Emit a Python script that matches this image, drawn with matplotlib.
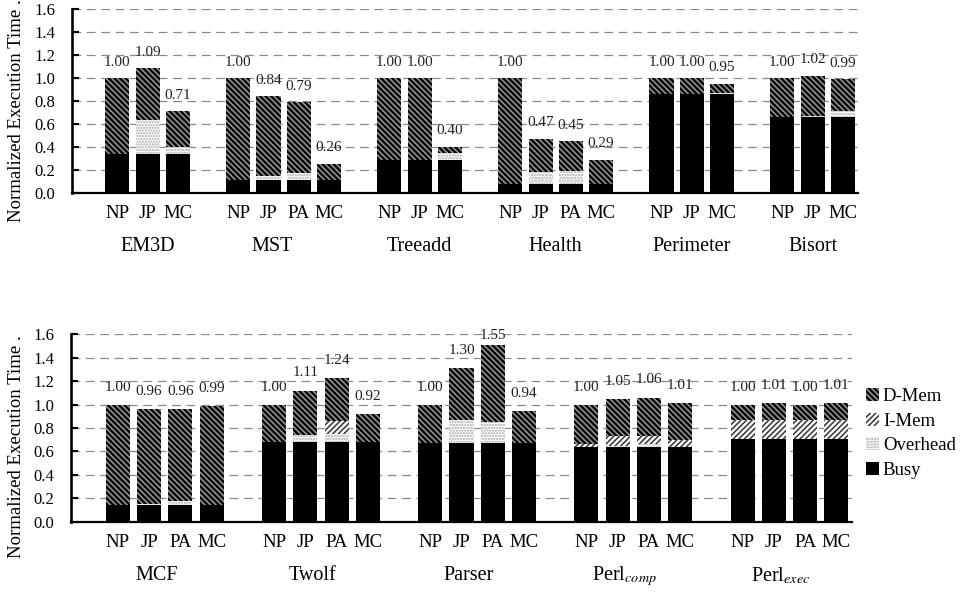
import numpy as np
import matplotlib.pyplot as plt
import matplotlib.patches as mpatches
from matplotlib.transforms import blended_transform_factory

plt.rcParams['font.family'] = ['Liberation Serif', 'DejaVu Serif']
plt.rcParams['mathtext.fontset'] = 'stix'
plt.rcParams['hatch.linewidth'] = 1.1

# ---- top chart data ----
top_groups = ['EM3D', 'MST', 'Treeadd', 'Health', 'Perimeter', 'Bisort']
top_cfgs = [['NP', 'JP', 'MC'], ['NP', 'JP', 'PA', 'MC'], ['NP', 'JP', 'MC'],
            ['NP', 'JP', 'PA', 'MC'], ['NP', 'JP', 'MC'], ['NP', 'JP', 'MC']]
top_busy = [0.34, 0.34, 0.34, 0.11, 0.11, 0.11, 0.11, 0.285, 0.285, 0.285,
            0.08, 0.08, 0.08, 0.08, 0.86, 0.86, 0.86, 0.66, 0.66, 0.66]
top_ovh = [0.0, 0.29, 0.06, 0.0, 0.035, 0.06, 0.0, 0.0, 0.0, 0.065,
           0.0, 0.10, 0.11, 0.0, 0.0, 0.0, 0.01, 0.0, 0.01, 0.05]
top_imem = [0.0] * 20
top_dmem = [0.66, 0.455, 0.31, 0.89, 0.695, 0.62, 0.14, 0.715, 0.715, 0.05,
            0.92, 0.29, 0.26, 0.205, 0.14, 0.14, 0.08, 0.34, 0.35, 0.28]
top_text = ['1.00', '1.09', '0.71', '1.00', '0.84', '0.79', '0.26', '1.00', '1.00', '0.40',
            '1.00', '0.47', '0.45', '0.29', '1.00', '1.00', '0.95', '1.00', '1.02', '0.99']
top_name_shift = [0, -0.37, 0, 0, 0, 0]

# ---- bottom chart data ----
bot_groups = ['MCF', 'Twolf', 'Parser', r'Perl$_{\mathit{comp}}$', r'Perl$_{\mathit{exec}}$']
bot_cfgs = [['NP', 'JP', 'PA', 'MC']] * 5
bot_busy = [0.14, 0.14, 0.14, 0.14, 0.68, 0.68, 0.68, 0.68, 0.675, 0.675, 0.675, 0.675,
            0.64, 0.64, 0.64, 0.64, 0.71, 0.71, 0.71, 0.71]
bot_ovh = [0.0, 0.01, 0.035, 0.0, 0.0, 0.06, 0.07, 0.0, 0.0, 0.195, 0.18, 0.0,
           0.0, 0.01, 0.025, 0.0, 0.0, 0.0, 0.0, 0.0]
bot_imem = [0.0, 0.0, 0.0, 0.0, 0.0, 0.0, 0.11, 0.0, 0.0, 0.0, 0.0, 0.0,
            0.02, 0.08, 0.065, 0.06, 0.16, 0.16, 0.16, 0.16]
bot_dmem = [0.86, 0.81, 0.785, 0.85, 0.32, 0.38, 0.37, 0.24, 0.325, 0.44, 0.655, 0.27,
            0.34, 0.32, 0.33, 0.31, 0.13, 0.14, 0.13, 0.14]
bot_text = ['1.00', '0.96', '0.96', '0.99', '1.00', '1.11', '1.24', '0.92', '1.00', '1.30', '1.55', '0.94',
            '1.00', '1.05', '1.06', '1.01', '1.00', '1.01', '1.00', '1.01']
bot_name_shift = [-0.27] * 5

styles = {
    'Busy': dict(facecolor='black', edgecolor='black', hatch=None),
    'Overhead': dict(facecolor='white', edgecolor='#a8a8a8', hatch='......'),
    'I-Mem': dict(facecolor='white', edgecolor='#333333', hatch='//////'),
    'D-Mem': dict(facecolor='black', edgecolor='#9c9c9c', hatch='\\' * 6),
}


def draw(ax, groups, cfgs, busy, ovh, imem, dmem, text, shift, width, txt_off):
    pos, ticks, centers = [], [], []
    slot = 0
    for g, c in zip(groups, cfgs):
        slot += 1
        xs = [slot + i + 0.5 for i in range(len(c))]
        pos += xs
        ticks += c
        centers.append(np.mean(xs))
        slot += len(c)
    pos = np.array(pos)
    bottom = np.zeros(len(pos))
    for name, vals in [('Busy', busy), ('Overhead', ovh), ('I-Mem', imem), ('D-Mem', dmem)]:
        vals = np.array(vals)
        ax.bar(pos, vals, width, bottom=bottom, linewidth=0, zorder=3, **styles[name])
        bottom += vals
    for x, b, t in zip(pos, bottom, text):
        ax.text(x, min(b + txt_off, 1.59), t, ha='center', va='center', fontsize=11,
                color='#222222', zorder=4)
    ax.set_xlim(0, slot)
    ax.set_ylim(0, 1.6)
    ax.set_yticks(np.arange(0, 1.61, 0.2))
    ax.set_yticklabels(['%.1f' % v for v in np.arange(0, 1.61, 0.2)])
    ax.set_xticks(pos, ticks)
    ax.tick_params(axis='x', length=0, pad=9, labelsize=13.5)
    ax.tick_params(axis='y', direction='in', length=5, width=1.5, pad=12, labelsize=12)
    ax.yaxis.grid(True, color='#8a8a8a', linestyle=(0, (7, 4.5)), linewidth=0.9, zorder=0)
    ax.set_axisbelow(True)
    for s in ['top', 'right']:
        ax.spines[s].set_visible(False)
    ax.spines['left'].set_linewidth(1.9)
    ax.spines['bottom'].set_linewidth(1.6)
    tr = blended_transform_factory(ax.transData, ax.transAxes)
    for cx, g, sh in zip(centers, groups, shift):
        ax.annotate(g, (cx + sh, 0), xycoords=tr, xytext=(0, -54), textcoords='offset pixels',
                    ha='center', va='center', fontsize=14.5)


fig = plt.figure(figsize=(9.61, 5.93), dpi=100)
ax1 = fig.add_axes([72 / 961, 1 - 192.7 / 593, (858 - 72) / 961, (192.7 - 9.3) / 593])
ax2 = fig.add_axes([71 / 961, 1 - 521.7 / 593, (852 - 71) / 961, (521.7 - 334.3) / 593])

draw(ax1, top_groups, top_cfgs, top_busy, top_ovh, top_imem, top_dmem, top_text,
     top_name_shift, 0.795, 0.14)
draw(ax2, bot_groups, bot_cfgs, bot_busy, bot_ovh, bot_imem, bot_dmem, bot_text,
     bot_name_shift, 0.77, 0.15)

fig.text(17 / 961, 1 - 222 / 593, 'Normalized Execution Time .', rotation=90,
         ha='center', va='bottom', fontsize=13.5)
fig.text(17 / 961, 1 - 558 / 593, 'Normalized Execution Time .', rotation=90,
         ha='center', va='bottom', fontsize=13.5)

handles = [mpatches.Patch(linewidth=0, label=n, **styles[n])
           for n in ['D-Mem', 'I-Mem', 'Overhead', 'Busy']]
fig.legend(handles=handles, loc='upper left', bbox_to_anchor=(866 / 961, 1 - 388 / 593),
           frameon=False, fontsize=13.5, handlelength=0.7, handleheight=0.7,
           handletextpad=0.2, labelspacing=0.4, borderpad=0, borderaxespad=0)

fig.savefig('out.png', dpi=100)
